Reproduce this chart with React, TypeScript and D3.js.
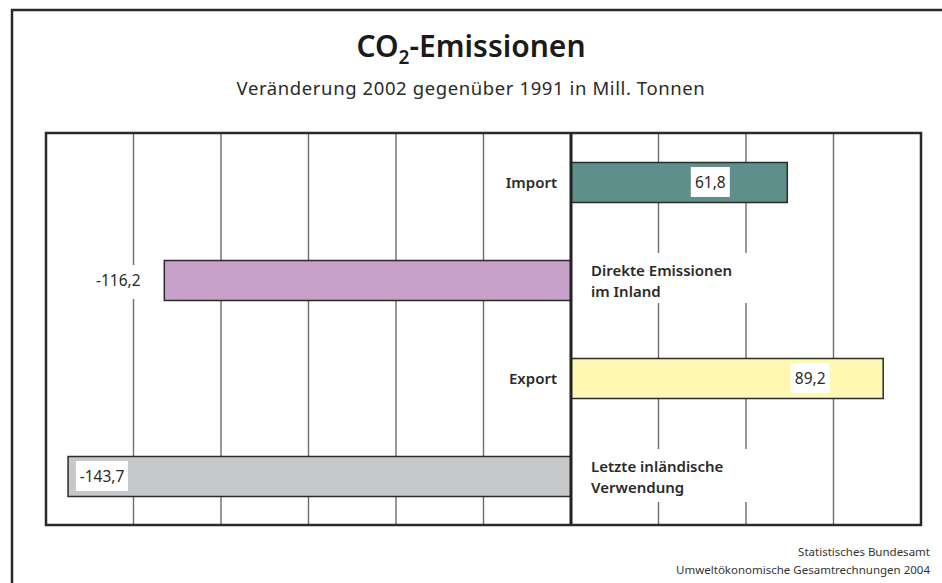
import React from "react";
import * as d3 from "d3";

const categories = ["Import", "Direkte Emissionen im Inland", "Export", "Letzte inländische Verwendung"];
const labelLines = [["Import"], ["Direkte Emissionen", "im Inland"], ["Export"], ["Letzte inländische", "Verwendung"]];
const values = [61.8, -116.2, 89.2, -143.7];
const valueLabels = ["61,8", "-116,2", "89,2", "-143,7"];
const barColors = ["#5f8f8b", "#c6a0c9", "#fff8b2", "#c6c7c9"];
const xTicks = [-150, -125, -100, -75, -50, -25, 0, 25, 50, 75, 100];

const W = 942, H = 583;
const FONT = "'Noto Sans', 'Open Sans', sans-serif";

export default function App() {
  const x = d3.scaleLinear().domain([-150, 100]).range([46, 921]);
  const y = d3.scaleBand<string>().domain(categories).range([133, 525]);
  const barH = 40;
  const x0 = x(0);

  return (
    <svg width={W} height={H} style={{ position: "absolute", left: 0, top: 0, background: "#fff" }} fontFamily={FONT}>
      <rect x={0} y={0} width={W} height={H} fill="#fff" />
      {/* outer frame */}
      <rect x={12} y={10} width={W + 20} height={H + 20} fill="none" stroke="#2a2a2a" strokeWidth={2.5} />
      {/* title */}
      <text x={471} y={57} textAnchor="middle" fontSize={30} fontWeight={600} fill="#1a1a1a">
        CO<tspan fontSize={19} dy={7}>2</tspan><tspan dy={-7}>-Emissionen</tspan>
      </text>
      <text x={471} y={95} textAnchor="middle" fontSize={18.5} letterSpacing={0.6} fill="#2a2a2a">
        Veränderung 2002 gegenüber 1991 in Mill. Tonnen
      </text>
      {/* plot background */}
      <rect x={x(-150)} y={133} width={x(100) - x(-150)} height={392} fill="#fff" />
      {/* grid */}
      {xTicks.filter(t => t !== -150 && t !== 0 && t !== 100).map(t => (
        <line key={t} x1={x(t)} x2={x(t)} y1={133} y2={525} stroke="#6e6e6e" strokeWidth={1.4} />
      ))}
      {/* bars */}
      {categories.map((c, i) => {
        const v = values[i];
        const by = (y(c) as number) + (y.bandwidth() - barH) / 2 + 0.5;
        return (
          <rect key={c} x={Math.min(x(v), x0)} y={by} width={Math.abs(x(v) - x0)} height={barH}
            fill={barColors[i]} stroke="#2b2b2b" strokeWidth={1.5} />
        );
      })}
      {/* category labels */}
      {categories.map((c, i) => {
        const cy = (y(c) as number) + y.bandwidth() / 2;
        const v = values[i];
        const lines = labelLines[i];
        if (v >= 0) {
          return (
            <text key={c} x={x0 - 14} y={cy + 5.5} textAnchor="end" fontSize={15} fontWeight={600} fill="#2a2a2a">{lines[0]}</text>
          );
        }
        const top = cy - 27;
        return (
          <g key={c}>
            <rect x={x0 + 14} y={top} width={162} height={i === 3 ? 53 : 50} fill="#fff" />
            {lines.map((l, j) => (
              <text key={j} x={x0 + 20} y={cy - 4 + j * 21} fontSize={15} fontWeight={600} fill="#2a2a2a">{l}</text>
            ))}
          </g>
        );
      })}
      {/* value labels */}
      {categories.map((c, i) => {
        const cy = (y(c) as number) + y.bandwidth() / 2;
        const v = values[i];
        const lbl = valueLabels[i];
        let cx: number, bw: number;
        if (i === 0) { cx = x(v) - 77; bw = 39; }
        else if (i === 2) { cx = x(v) - 73; bw = 39; }
        else if (i === 3) { bw = 52; cx = x(v) + 8 + bw / 2; }
        else { bw = 52; cx = x(v) - 46; }
        return (
          <g key={c}>
            <rect x={cx - bw / 2} y={cy - 15} width={bw} height={i === 1 ? 34 : 30} fill="#fff" />
            <text x={cx} y={cy + 6} textAnchor="middle" fontSize={15.5} fill="#2a2a2a">{lbl}</text>
          </g>
        );
      })}
      {/* zero line */}
      <line x1={x0} x2={x0} y1={133} y2={525} stroke="#222" strokeWidth={3} />
      {/* plot frame */}
      <rect x={x(-150)} y={133} width={x(100) - x(-150)} height={392} fill="none" stroke="#2a2a2a" strokeWidth={2.5} />
      {/* footer */}
      <text x={930} y={556} textAnchor="end" fontSize={11.5} fill="#333">Statistisches Bundesamt</text>
      <text x={930} y={574} textAnchor="end" fontSize={11.5} fill="#333">Umweltökonomische Gesamtrechnungen 2004</text>
    </svg>
  );
}
